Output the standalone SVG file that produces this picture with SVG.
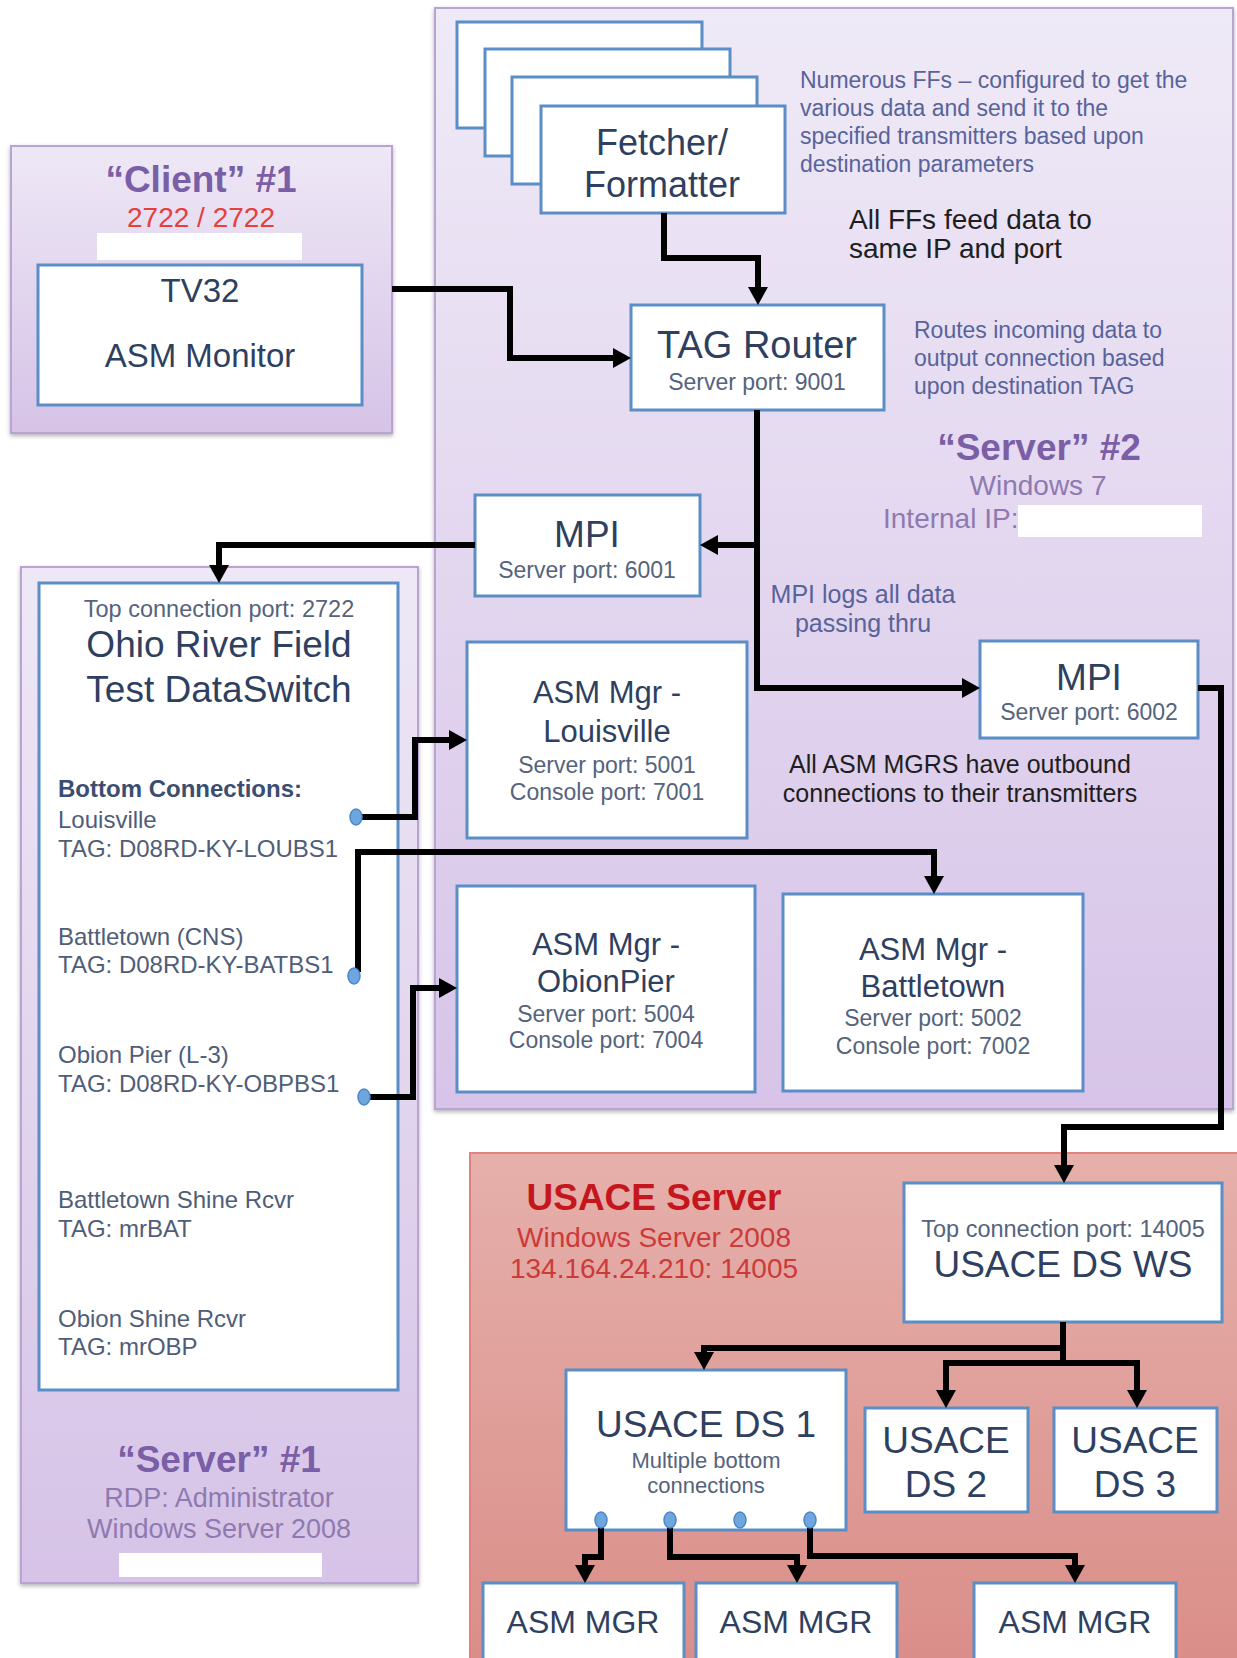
<svg xmlns="http://www.w3.org/2000/svg" width="1237" height="1658" viewBox="0 0 1237 1658">
<defs>
<linearGradient id="gPurple" x1="0" y1="0" x2="0" y2="1">
<stop offset="0" stop-color="#eee8f6"/>
<stop offset="1" stop-color="#d6c3e7"/>
</linearGradient>
<linearGradient id="gPurple2" x1="0" y1="0" x2="0" y2="1">
<stop offset="0" stop-color="#efeaf7"/>
<stop offset="1" stop-color="#d7c4e8"/>
</linearGradient>
<linearGradient id="gRed" x1="0" y1="0" x2="0" y2="1">
<stop offset="0" stop-color="#e6b0ab"/>
<stop offset="1" stop-color="#da8d88"/>
</linearGradient>
<filter id="sh" x="-5%" y="-5%" width="110%" height="110%">
<feDropShadow dx="0" dy="2" stdDeviation="2" flood-color="#000" flood-opacity="0.3"/>
</filter>
<marker id="ah" viewBox="0 0 18 20" refX="3" refY="10" markerWidth="18" markerHeight="20" markerUnits="userSpaceOnUse" orient="auto">
<path d="M0,0 L18,10 L0,20 z" fill="#000"/>
</marker>
</defs>
<style>
text{font-family:"Liberation Sans",Arial,sans-serif}
.cont{stroke:#b9a3d2;stroke-width:2}
.box{fill:#fff;stroke:#5b8ec6;stroke-width:3}
.red{fill:#fff}
.big{font-size:37px;fill:#2f3f5f;text-anchor:middle}
.mid{font-size:31px;fill:#2f3f5f;text-anchor:middle}
.port{font-size:23px;fill:#55637c;text-anchor:middle}
.lst{font-size:24px;fill:#4f5d78}
.desc{font-size:23px;fill:#58639a}
.note{font-size:25px;fill:#1e1e1e}
.ptitle{font-size:37px;font-weight:bold;fill:#7a5ea6;text-anchor:middle}
.psub{font-size:27px;fill:#8f7aaf;text-anchor:middle}
.rsub{font-size:28px;fill:#cc3a3a;text-anchor:middle}
.conn{fill:none;stroke:#000;stroke-width:6;stroke-linejoin:miter}
.dot{fill:#6ea6e0;stroke:#4f86c4;stroke-width:1.5}
</style>

<g id="client1">
<rect class="cont" x="11" y="146" width="381" height="287" fill="url(#gPurple)" filter="url(#sh)"/>
<text class="ptitle" x="201" y="192">“Client” #1</text>
<text x="201" y="227" style="font-size:28px;fill:#e5403c;text-anchor:middle">2722 / 2722</text>
<rect class="red" x="97" y="233" width="205" height="27"/>
</g>
<g id="tv32">
<rect class="box" x="38" y="265" width="324" height="140"/>
<text class="big" x="200" y="302" style="font-size:33px">TV32</text>
<text class="big" x="200" y="367" style="font-size:33px">ASM Monitor</text>
</g>

<g id="server2">
<rect class="cont" x="435" y="8" width="798" height="1101" fill="url(#gPurple2)" filter="url(#sh)"/>
<text class="desc" x="800" y="88">Numerous FFs – configured to get the</text>
<text class="desc" x="800" y="116">various data and send it to the</text>
<text class="desc" x="800" y="144">specified transmitters based upon</text>
<text class="desc" x="800" y="172">destination parameters</text>
<text class="note" x="849" y="229" style="font-size:28px">All FFs feed data to</text>
<text class="note" x="849" y="258" style="font-size:28px">same IP and port</text>
<text class="desc" x="914" y="338">Routes incoming data to</text>
<text class="desc" x="914" y="366">output connection based</text>
<text class="desc" x="914" y="394">upon destination TAG</text>
<text class="ptitle" x="1039" y="460">“Server” #2</text>
<text class="psub" x="1038" y="495" style="font-size:28px">Windows 7</text>
<text class="psub" x="883" y="528" style="font-size:28px;text-anchor:start">Internal IP:</text>
<rect class="red" x="1018" y="505" width="184" height="32"/>
<text class="desc" x="863" y="603" style="font-size:25px;text-anchor:middle">MPI logs all data</text>
<text class="desc" x="863" y="632" style="font-size:25px;text-anchor:middle">passing thru</text>
<text class="note" x="960" y="773" style="text-anchor:middle">All ASM MGRS have outbound</text>
<text class="note" x="960" y="802" style="text-anchor:middle">connections to their transmitters</text>
</g>

<g id="fetchers">
<rect class="box" x="457" y="22" width="245" height="106"/>
<rect class="box" x="485" y="49" width="245" height="107"/>
<rect class="box" x="512" y="77" width="245" height="107"/>
<rect class="box" x="541" y="106" width="244" height="107"/>
<text class="big" x="662" y="155" style="font-size:36px">Fetcher/</text>
<text class="big" x="662" y="197" style="font-size:36px">Formatter</text>
</g>

<g id="tagrouter">
<rect class="box" x="631" y="305" width="253" height="105"/>
<text class="big" x="757" y="358" style="font-size:38px">TAG Router</text>
<text class="port" x="757" y="390">Server port: 9001</text>
</g>

<g id="mpi6001">
<rect class="box" x="475" y="495" width="225" height="101"/>
<text class="big" x="587" y="547">MPI</text>
<text class="port" x="587" y="578">Server port: 6001</text>
</g>

<g id="mpi6002">
<rect class="box" x="980" y="641" width="218" height="97"/>
<text class="big" x="1089" y="690">MPI</text>
<text class="port" x="1089" y="720">Server port: 6002</text>
</g>

<g id="asm-louisville">
<rect class="box" x="467" y="642" width="280" height="196"/>
<text class="mid" x="607" y="703">ASM Mgr -</text>
<text class="mid" x="607" y="742">Louisville</text>
<text class="port" x="607" y="773">Server port: 5001</text>
<text class="port" x="607" y="800">Console port: 7001</text>
</g>

<g id="asm-obionpier">
<rect class="box" x="457" y="886" width="298" height="206"/>
<text class="mid" x="606" y="955">ASM Mgr -</text>
<text class="mid" x="606" y="992">ObionPier</text>
<text class="port" x="606" y="1022">Server port: 5004</text>
<text class="port" x="606" y="1048">Console port: 7004</text>
</g>

<g id="asm-battletown">
<rect class="box" x="783" y="894" width="300" height="197"/>
<text class="mid" x="933" y="960">ASM Mgr -</text>
<text class="mid" x="933" y="997">Battletown</text>
<text class="port" x="933" y="1026">Server port: 5002</text>
<text class="port" x="933" y="1054">Console port: 7002</text>
</g>

<g id="server1">
<rect class="cont" x="21" y="567" width="397" height="1016" fill="url(#gPurple)" filter="url(#sh)"/>
<text class="ptitle" x="219" y="1472">“Server” #1</text>
<text class="psub" x="219" y="1507">RDP: Administrator</text>
<text class="psub" x="219" y="1538">Windows Server 2008</text>
<rect class="red" x="119" y="1553" width="203" height="24"/>
</g>

<g id="dataswitch">
<rect class="box" x="39" y="583" width="359" height="807"/>
<text class="port" x="219" y="617" style="font-size:23.5px">Top connection port: 2722</text>
<text class="big" x="219" y="657">Ohio River Field</text>
<text class="big" x="219" y="702">Test DataSwitch</text>
<text class="lst" x="58" y="797" style="font-weight:bold;fill:#3b4d70">Bottom Connections:</text>
<text class="lst" x="58" y="828">Louisville</text>
<text class="lst" x="58" y="857">TAG: D08RD-KY-LOUBS1</text>
<text class="lst" x="58" y="945">Battletown (CNS)</text>
<text class="lst" x="58" y="973">TAG: D08RD-KY-BATBS1</text>
<text class="lst" x="58" y="1063">Obion Pier (L-3)</text>
<text class="lst" x="58" y="1092">TAG: D08RD-KY-OBPBS1</text>
<text class="lst" x="58" y="1208">Battletown Shine Rcvr</text>
<text class="lst" x="58" y="1237">TAG: mrBAT</text>
<text class="lst" x="58" y="1327">Obion Shine Rcvr</text>
<text class="lst" x="58" y="1355">TAG: mrOBP</text>
</g>

<g id="usace">
<rect x="470" y="1153" width="790" height="520" fill="url(#gRed)" stroke="#e38080" stroke-width="2"/>
<text x="654" y="1210" style="font-size:37px;font-weight:bold;fill:#c4161c;text-anchor:middle">USACE Server</text>
<text class="rsub" x="654" y="1247">Windows Server 2008</text>
<text class="rsub" x="654" y="1278">134.164.24.210: 14005</text>
</g>

<g id="usace-dsws">
<rect class="box" x="904" y="1183" width="318" height="139"/>
<text class="port" x="1063" y="1237" style="font-size:23.5px">Top connection port: 14005</text>
<text class="big" x="1063" y="1277">USACE DS WS</text>
</g>

<g id="usace-ds1">
<rect class="box" x="566" y="1370" width="280" height="160"/>
<text class="big" x="706" y="1437">USACE DS 1</text>
<text class="port" x="706" y="1468" style="font-size:22px">Multiple bottom</text>
<text class="port" x="706" y="1493" style="font-size:22px">connections</text>
</g>

<g id="usace-ds2">
<rect class="box" x="865" y="1408" width="163" height="104"/>
<text class="big" x="946" y="1453">USACE</text>
<text class="big" x="946" y="1497">DS 2</text>
</g>

<g id="usace-ds3">
<rect class="box" x="1054" y="1408" width="163" height="104"/>
<text class="big" x="1135" y="1453">USACE</text>
<text class="big" x="1135" y="1497">DS 3</text>
</g>

<g id="asmmgr1">
<rect class="box" x="483" y="1583" width="201" height="90"/>
<text class="big" x="583" y="1633" style="font-size:32px">ASM MGR</text>
</g>
<g id="asmmgr2">
<rect class="box" x="696" y="1583" width="201" height="90"/>
<text class="big" x="796" y="1633" style="font-size:32px">ASM MGR</text>
</g>
<g id="asmmgr3">
<rect class="box" x="974" y="1583" width="202" height="90"/>
<text class="big" x="1075" y="1633" style="font-size:32px">ASM MGR</text>
</g>

<g id="connectors">
<path class="conn" d="M392,289 H510 V358 H616" marker-end="url(#ah)"/>
<path class="conn" d="M664,213 V258 H758 V290" marker-end="url(#ah)"/>
<path class="conn" d="M757,410 V688 H965" marker-end="url(#ah)"/>
<path class="conn" d="M757,545 H715" marker-end="url(#ah)"/>
<path class="conn" d="M475,545 H219 V568" marker-end="url(#ah)"/>
<path class="conn" d="M362,817 H415 V740 H452" marker-end="url(#ah)"/>
<path class="conn" d="M358,972 V852 H934 V879" marker-end="url(#ah)"/>
<path class="conn" d="M370,1097 H413 V988 H442" marker-end="url(#ah)"/>
<path class="conn" d="M1198,688 H1221 V1127 H1064 V1168" marker-end="url(#ah)"/>
<path class="conn" d="M1063,1322 V1363 H946 V1393" marker-end="url(#ah)"/>
<path class="conn" d="M1063,1363 H1137 V1393" marker-end="url(#ah)"/>
<path class="conn" d="M1063,1348 H704 V1355" marker-end="url(#ah)"/>
<path class="conn" d="M601,1520 V1557 H585 V1568" marker-end="url(#ah)"/>
<path class="conn" d="M670,1520 V1557 H797 V1568" marker-end="url(#ah)"/>
<path class="conn" d="M810,1520 V1556 H1075 V1568" marker-end="url(#ah)"/>
</g>

<g id="ports">
<ellipse class="dot" cx="356" cy="817" rx="6" ry="8"/>
<ellipse class="dot" cx="354" cy="976" rx="6" ry="8"/>
<ellipse class="dot" cx="364" cy="1097" rx="6" ry="8"/>
<ellipse class="dot" cx="601" cy="1520" rx="6" ry="8"/>
<ellipse class="dot" cx="670" cy="1520" rx="6" ry="8"/>
<ellipse class="dot" cx="740" cy="1520" rx="6" ry="8"/>
<ellipse class="dot" cx="810" cy="1520" rx="6" ry="8"/>
</g>
</svg>
